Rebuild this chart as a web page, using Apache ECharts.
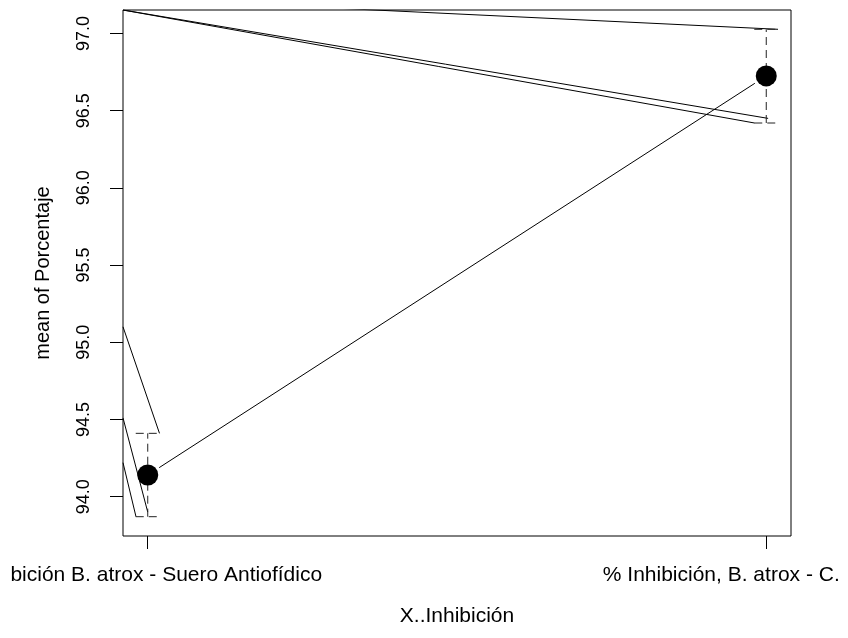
<!DOCTYPE html>
<html>
<head>
<meta charset="utf-8">
<script src="https://cdn.jsdelivr.net/npm/echarts@6/dist/echarts.min.js"></script>
<style>
  html, body { margin: 0; padding: 0; background: #fff; }
  #chart { width: 848px; height: 638px; }
</style>
</head>
<body>
<div id="chart"></div>
<script>
// Group positions and their tick labels
const groupX = [1, 2];
const tickLabels = ['bición B. atrox - Suero Antiofídico', '% Inhibición, B. atrox - C.'];

// Group means and the interval around each mean
const means = [94.14, 96.725];
const ciLower = [93.87, 96.42];
const ciUpper = [94.41, 97.027];

// Y axis tick values
const yTicks = [94.0, 94.5, 95.0, 95.5, 96.0, 96.5, 97.0];

// Extra solid segments drawn inside the plot box (start / end in data units)
const segFrom = [[0.96, 97.23], [0.96, 97.152], [0.96, 97.152], [0.96, 95.10], [0.96, 94.51], [0.96, 94.22]];
const segTo = [[2.019, 97.027], [2.003, 96.45], [1.981, 96.42], [1.019, 94.41], [1.0, 93.90], [0.981, 93.87]];

const FONT = "'Liberation Sans', Arial, sans-serif";
const chart = echarts.init(document.getElementById('chart'), null, { renderer: 'canvas' });

const segSeries = segFrom.map((p, i) => ({
  type: 'line',
  data: [p, segTo[i]],
  symbol: 'none',
  clip: true,
  silent: true,
  lineStyle: { color: '#000', width: 1 },
  z: 2
}));

const option = {
  animation: false,
  backgroundColor: '#fff',
  grid: {
    left: 123, right: 57, top: 10, bottom: 102,
    show: true, borderColor: '#000', borderWidth: 1, backgroundColor: 'transparent'
  },
  xAxis: {
    type: 'value',
    min: 0.96, max: 2.04,
    name: 'X..Inhibición',
    nameLocation: 'middle',
    nameGap: 70,
    nameTextStyle: { fontFamily: FONT, fontSize: 21, color: '#000' },
    axisLine: { show: false },
    splitLine: { show: false },
    axisTick: { show: true, inside: false, length: 13, customValues: groupX, lineStyle: { color: '#000' } },
    axisLabel: {
      customValues: groupX,
      margin: 29,
      fontFamily: FONT, fontSize: 21, color: '#000',
      formatter: v => {
        const i = groupX.indexOf(v);
        return i === 0 ? '{l|' + tickLabels[0] + '}' : '{r|' + tickLabels[1] + '}';
      },
      rich: {
        l: { fontFamily: FONT, fontSize: 21, color: '#000', padding: [0, 0, 0, 37] },
        r: { fontFamily: FONT, fontSize: 21, color: '#000', padding: [0, 90, 0, 0] }
      }
    }
  },
  yAxis: {
    type: 'value',
    min: 93.745, max: 97.152,
    name: 'mean of Porcentaje',
    nameLocation: 'middle',
    nameRotate: 90,
    nameGap: 70,
    nameTextStyle: { fontFamily: FONT, fontSize: 20, color: '#000' },
    axisLine: { show: false },
    splitLine: { show: false },
    axisTick: { show: true, inside: false, length: 13, customValues: yTicks, lineStyle: { color: '#000' } },
    axisLabel: {
      customValues: yTicks,
      rotate: 90,
      margin: 30,
      fontFamily: FONT, fontSize: 18, color: '#000',
      formatter: v => v.toFixed(1)
    }
  },
  series: [
    ...segSeries,
    {
      // line joining the two means, stopping short of each dot
      type: 'custom',
      silent: true,
      clip: true,
      data: [[groupX[0], means[0], groupX[1], means[1]]],
      renderItem: (params, api) => {
        const a = api.coord([api.value(0), api.value(1)]);
        const b = api.coord([api.value(2), api.value(3)]);
        const dx = b[0] - a[0], dy = b[1] - a[1];
        const len = Math.sqrt(dx * dx + dy * dy);
        const gap = 13.6;
        const ux = dx / len, uy = dy / len;
        return {
          type: 'line',
          shape: { x1: a[0] + ux * gap, y1: a[1] + uy * gap, x2: b[0] - ux * gap, y2: b[1] - uy * gap },
          style: { stroke: '#000', lineWidth: 1 }
        };
      },
      z: 3
    },
    {
      // dashed interval bars with caps
      type: 'custom',
      silent: true,
      clip: false,
      data: groupX.map((x, i) => [x, ciLower[i], ciUpper[i]]),
      renderItem: (params, api) => {
        const lo = api.coord([api.value(0), api.value(1)]);
        const hi = api.coord([api.value(0), api.value(2)]);
        const cap = 12;
        const st = { stroke: '#222', lineWidth: 1, lineDash: [8, 5] };
        return {
          type: 'group',
          children: [
            { type: 'line', shape: { x1: lo[0], y1: lo[1], x2: hi[0], y2: hi[1] }, style: st },
            { type: 'line', shape: { x1: hi[0] - cap, y1: hi[1], x2: hi[0] + cap, y2: hi[1] }, style: st },
            { type: 'line', shape: { x1: lo[0] - cap, y1: lo[1], x2: lo[0] + cap, y2: lo[1] }, style: st }
          ]
        };
      },
      z: 3
    },
    {
      type: 'scatter',
      data: groupX.map((x, i) => [x, means[i]]),
      symbol: 'circle',
      symbolSize: 21,
      itemStyle: { color: '#000', opacity: 1 },
      silent: true,
      z: 4
    }
  ]
};

chart.setOption(option);
</script>
</body>
</html>
